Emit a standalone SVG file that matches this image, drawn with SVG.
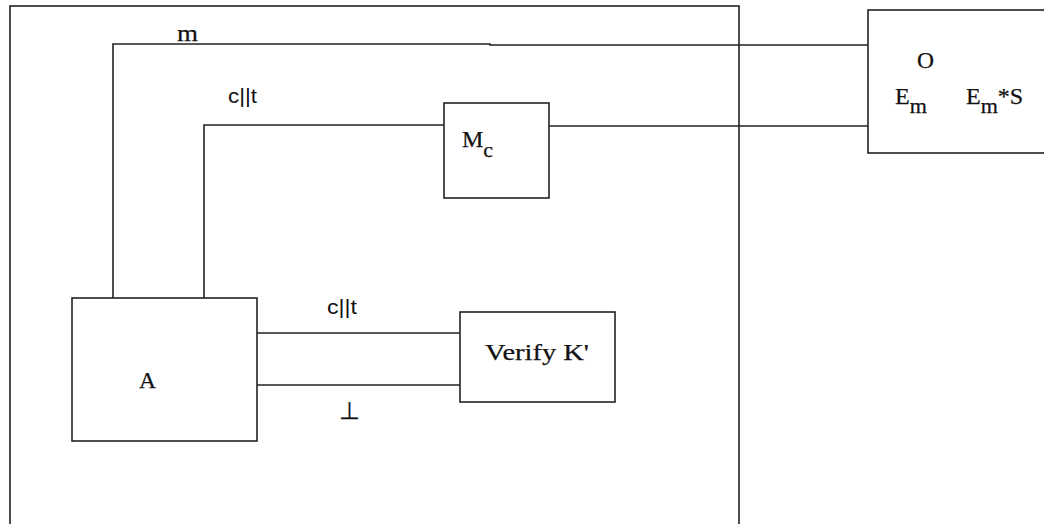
<svg xmlns="http://www.w3.org/2000/svg" width="1044" height="524" viewBox="0 0 1044 524">
<style>
.box{fill:#fff;stroke:#222;stroke-width:1.6}
.ln{fill:none;stroke:#222;stroke-width:1.6}
.t{font-family:"Liberation Serif",serif;font-size:24px;fill:#111;stroke:#111;stroke-width:0.25}
.s{font-family:"Liberation Sans",sans-serif;font-size:21px;fill:#111}
.sub{font-size:22px}
</style>
<rect width="1044" height="524" fill="#fff"/>
<g id="outer"><rect class="box" x="10" y="6" width="729" height="530"/></g>
<g id="connectors">
<polyline class="ln" points="113,298 113,44 490,44 490,45 868,45"/>
<polyline class="ln" points="204,298 204,125 444,125"/>
<line class="ln" x1="549" y1="126" x2="868" y2="126"/>
<line class="ln" x1="257" y1="333" x2="460" y2="333"/>
<line class="ln" x1="257" y1="385" x2="460" y2="385"/>
<text class="t" x="177" y="41" textLength="21" lengthAdjust="spacingAndGlyphs">m</text>
<text class="s" x="228" y="103" textLength="29" lengthAdjust="spacingAndGlyphs">c||t</text>
<text class="s" x="327" y="314" textLength="30" lengthAdjust="spacingAndGlyphs">c||t</text>
<text class="t" x="339" y="419" textLength="21" lengthAdjust="spacingAndGlyphs">⊥</text>
</g>
<g id="node-O">
<rect class="box" x="868" y="10" width="180" height="143"/>
<text class="t" x="917" y="68" textLength="17" lengthAdjust="spacingAndGlyphs">O</text>
<text class="t" x="895" y="104">E<tspan class="sub" dy="9">m</tspan></text>
<text class="t" x="966" y="104">E<tspan class="sub" dy="9">m</tspan><tspan dy="-9">*S</tspan></text>
</g>
<g id="node-Mc">
<rect class="box" x="444" y="103" width="105" height="95"/>
<text class="t" x="462" y="147">M<tspan class="sub" dy="10">c</tspan></text>
</g>
<g id="node-A">
<rect class="box" x="72" y="298" width="185" height="143"/>
<text class="t" x="139" y="388" textLength="17" lengthAdjust="spacingAndGlyphs">A</text>
</g>
<g id="node-Verify">
<rect class="box" x="460" y="312" width="155" height="90"/>
<text class="t" x="485" y="360" textLength="104" lengthAdjust="spacingAndGlyphs">Verify K'</text>
</g>
</svg>
